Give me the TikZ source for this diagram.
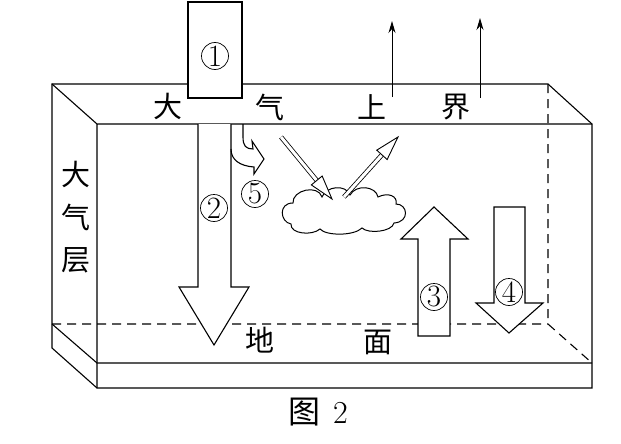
\documentclass[tikz,border=0pt]{standalone}
\usepackage{fontspec}
\newfontfamily\cjk{Noto Sans CJK SC}
\usetikzlibrary{positioning, arrows.meta, calc}
\tikzset{
x=1pt, y=-1pt, % one unit is one pixel of the figure, y runs downwards
word/.style={font=\cjk\fontsize{29}{29}\selectfont, inner sep=0pt}, % chinese labels
num/.style={circle, draw, line width=0.7pt, minimum size=27pt, inner sep=0pt, font=\fontsize{31}{31}\selectfont}, % circled numbers
bigarrow/.style={draw, fill=white, line join=miter}, % wide hollow arrows
ray/.style={double, double distance=3pt, line width=0.8pt}, % sun rays
edge/.style={dash pattern=on 9pt off 6pt}, % hidden edges of the box
}

\begin{document}
\begin{tikzpicture}[line width=1.1pt]
    \useasboundingbox (0,0) rectangle (621,444);

    % corners of the box
    \coordinate (BTL) at (52,84);
    \coordinate (BTR) at (548,84);
    \coordinate (FTL) at (97,124);
    \coordinate (FTR) at (592,124);
    \coordinate (GBL) at (52,324);
    \coordinate (GBR) at (548,324);
    \coordinate (GFL) at (97,363);
    \coordinate (GFR) at (592,363);
    \coordinate (SBL) at (52,348);
    \coordinate (SFL) at (97,388);
    \coordinate (SFR) at (592,388);

    \draw (BTL) -- (BTR) -- (FTR) -- (SFR) -- (SFL) -- (SBL) -- cycle;
    \draw (BTL) -- (FTL) -- (FTR) (FTL) -- (SFL);
    \draw (GBL) -- (GFL) -- (GFR);
    \draw[edge] (BTR) -- (GBR) -- (GFR) (GBL) -- (GBR);

    % sun above
    \draw[fill=white] (188,2) rectangle (242,98);
    \node[num] (n1) at (215,56) {1};

    % wide arrows
    \draw[bigarrow] (198,124) -- (198,287) -- (179,287) -- (214,345) -- (249,287) -- (231,287) -- (231,124);
    \draw[bigarrow] (418,336) -- (418,239) -- (401,239) -- (434,207) -- (468,239) -- (450,239) -- (450,336) -- cycle;
    \draw[bigarrow] (494,207) -- (494,303) -- (476,303) -- (509,333) -- (543,303) -- (525,303) -- (525,207) -- cycle;
    \draw[line join=miter] (243,124) -- (243,137) .. controls (243,146) and (246,149) .. (253,149) -- (252,141) -- (264,159) -- (254,174) -- (254,167) .. controls (240,166) and (231,160) .. (231,149);

    \node[num] (n2) at (214,208) {2};
    \node[num] (n3) at (434,297) {3};
    \node[num] (n4) at (509,292) {4};
    \node[num] (n5) at (255,194) {5};

    % cloud
    \draw[line width=1pt] (291,224) .. controls (280,222) and (278,203) .. (293,203)
        .. controls (292,190) and (318,184) .. (322,197)
        .. controls (326,186) and (346,184) .. (350,195)
        .. controls (356,184) and (376,186) .. (378,197)
        .. controls (388,192) and (398,196) .. (396,204)
        .. controls (408,204) and (410,222) .. (394,223)
        .. controls (392,232) and (368,234) .. (362,228)
        .. controls (354,236) and (326,236) .. (320,229)
        .. controls (312,236) and (290,234) .. (291,224) -- cycle;

    % rays on the cloud
    \coordinate (inS) at (281,137);
    \coordinate (inT) at (332,199);
    \coordinate (inB) at ($(inT)!24pt!(inS)$);
    \coordinate (outS) at (344,197);
    \coordinate (outT) at (398,137);
    \coordinate (outB) at ($(outT)!24pt!(outS)$);
    \draw[ray] (inS) -- (inB);
    \draw[line width=0.9pt, fill=white] ($(inB)!7pt!90:(inT)$) -- (inT) -- ($(inB)!7pt!-90:(inT)$) -- cycle;
    \draw[ray] (outS) -- (outB);
    \draw[line width=0.9pt, fill=white] ($(outB)!7pt!90:(outT)$) -- (outT) -- ($(outB)!7pt!-90:(outT)$) -- cycle;

    % heat leaving the top
    \coordinate (up1) at (392,97);
    \coordinate (up1e) at (392,21);
    \coordinate (up2) at (480,98);
    \coordinate (up2e) at (480,18);
    \draw[-{Stealth[length=12pt, width=7pt]}, line width=1pt] (up1) -- (up1e);
    \draw[-{Stealth[length=12pt, width=7pt]}, line width=1pt] (up2) -- (up2e);

    % labels
    \node[word] (top1) at (168,106) {大};
    \node[word] (top2) at (270,107) {气};
    \node[word] (top3) at (372,107) {上};
    \node[word] (top4) at (456,107) {界};
    \node[word, minimum height=42pt] (side1) at (76,174) {大};
    \node[word, minimum height=42pt, below=0pt of side1] (side2) {气};
    \node[word, minimum height=42pt, below=0pt of side2] (side3) {层};
    \node[word] (ground1) at (260,340) {地};
    \node[word] (ground2) at (378,342) {面};
    \node[word, font=\cjk\fontsize{32}{32}\selectfont] (fig) at (318,412) {图\hspace{0.4em}\rmfamily 2};
\end{tikzpicture}
\end{document}
